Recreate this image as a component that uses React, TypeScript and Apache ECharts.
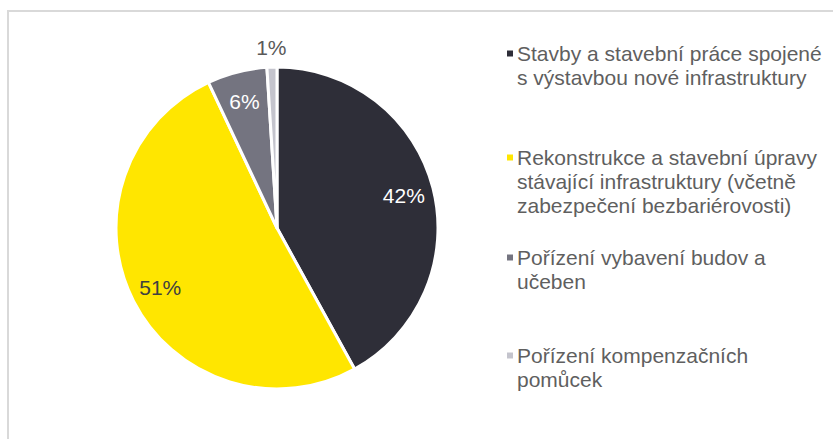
import React, { useEffect, useRef } from "react";
import * as echarts from "echarts";

const legendLines: string[][] = [
  ["Stavby a stavební práce spojené", "s výstavbou nové infrastruktury"],
  ["Rekonstrukce a stavební úpravy", "stávající infrastruktury (včetně", "zabezpečení bezbariérovosti)"],
  ["Pořízení vybavení budov a", "učeben"],
  ["Pořízení kompenzačních", "pomůcek"],
];
const categories: string[] = legendLines.map((l) => l.join(" "));
const values: number[] = [42, 51, 6, 1];
const colors: string[] = ["#2e2e38", "#ffe600", "#747480", "#c4c4cd"];
const labelColors: string[] = ["#ffffff", "#404040", "#ffffff", "#595959"];
const legendTops: number[] = [43, 147, 247, 345];

const FONT = "'Liberation Sans', Arial, sans-serif";

export default function App() {
  const ref = useRef<HTMLDivElement>(null);
  useEffect(() => {
    if (!ref.current) return;
    const chart = echarts.init(ref.current, undefined, { renderer: "svg" });
    const center = [277, 228];
    const rich: Record<string, any> = {
      g: { width: 4 },
      ind: { width: 10 },
      t: { fontSize: 21, lineHeight: 24, color: "#5f5f5f", fontFamily: FONT },
    };
    colors.forEach((c, i) => {
      rich["b" + i] = { width: 6, height: 6, backgroundColor: c };
    });
    const legends = categories.map((name, i) => ({
      data: [name],
      left: 501,
      top: legendTops[i],
      padding: 0,
      itemWidth: 0,
      itemHeight: 0,
      icon: "rect",
      selectedMode: false,
      formatter: (n: string) => {
        const k = categories.indexOf(n);
        return legendLines[k]
          .map((l, j) => (j === 0 ? `{b${k}|}{g|}` : `{ind|}`) + `{t|${l}}`)
          .join("\n");
      },
      textStyle: { rich, fontFamily: FONT },
    }));
    const dataMain = categories.map((name, i) => ({
      name,
      value: values[i],
      itemStyle: { color: colors[i] },
    }));
    const dataLabels = categories.map((name, i) => ({
      name,
      value: values[i],
      label: { show: i < 3, color: labelColors[i] },
    }));
    const dataOuter = categories.map((name, i) => ({
      name,
      value: values[i],
      label: { show: i === 3, color: labelColors[i] },
    }));
    const labelBase = {
      position: "inside",
      formatter: "{c}%",
      fontSize: 21,
      fontFamily: FONT,
    };
    chart.setOption({
      animation: false,
      backgroundColor: "#ffffff",
      graphic: [
        {
          type: "rect",
          shape: { x: 8, y: 11, width: 1000, height: 1000 },
          style: { fill: "none", stroke: "#d9d9d9", lineWidth: 2 },
          silent: true,
        },
      ],
      legend: legends,
      series: [
        {
          type: "pie",
          center,
          radius: [0, 161],
          startAngle: 90,
          clockwise: true,
          label: { show: false },
          labelLine: { show: false },
          itemStyle: { borderColor: "#ffffff", borderWidth: 3 },
          emphasis: { disabled: true },
          data: dataMain,
        },
        {
          type: "pie",
          center,
          radius: [100, 156],
          startAngle: 90,
          clockwise: true,
          silent: true,
          itemStyle: { color: "rgba(0,0,0,0)" },
          label: labelBase,
          labelLine: { show: false },
          emphasis: { disabled: true },
          data: dataLabels,
        },
        {
          type: "pie",
          center,
          radius: [165, 190],
          startAngle: 90,
          clockwise: true,
          silent: true,
          itemStyle: { color: "rgba(0,0,0,0)" },
          label: labelBase,
          labelLine: { show: false },
          emphasis: { disabled: true },
          data: dataOuter,
        },
      ],
    });
    return () => chart.dispose();
  }, []);
  return (
    <div
      ref={ref}
      style={{ position: "fixed", left: 0, top: 0, width: 833, height: 439 }}
    />
  );
}
